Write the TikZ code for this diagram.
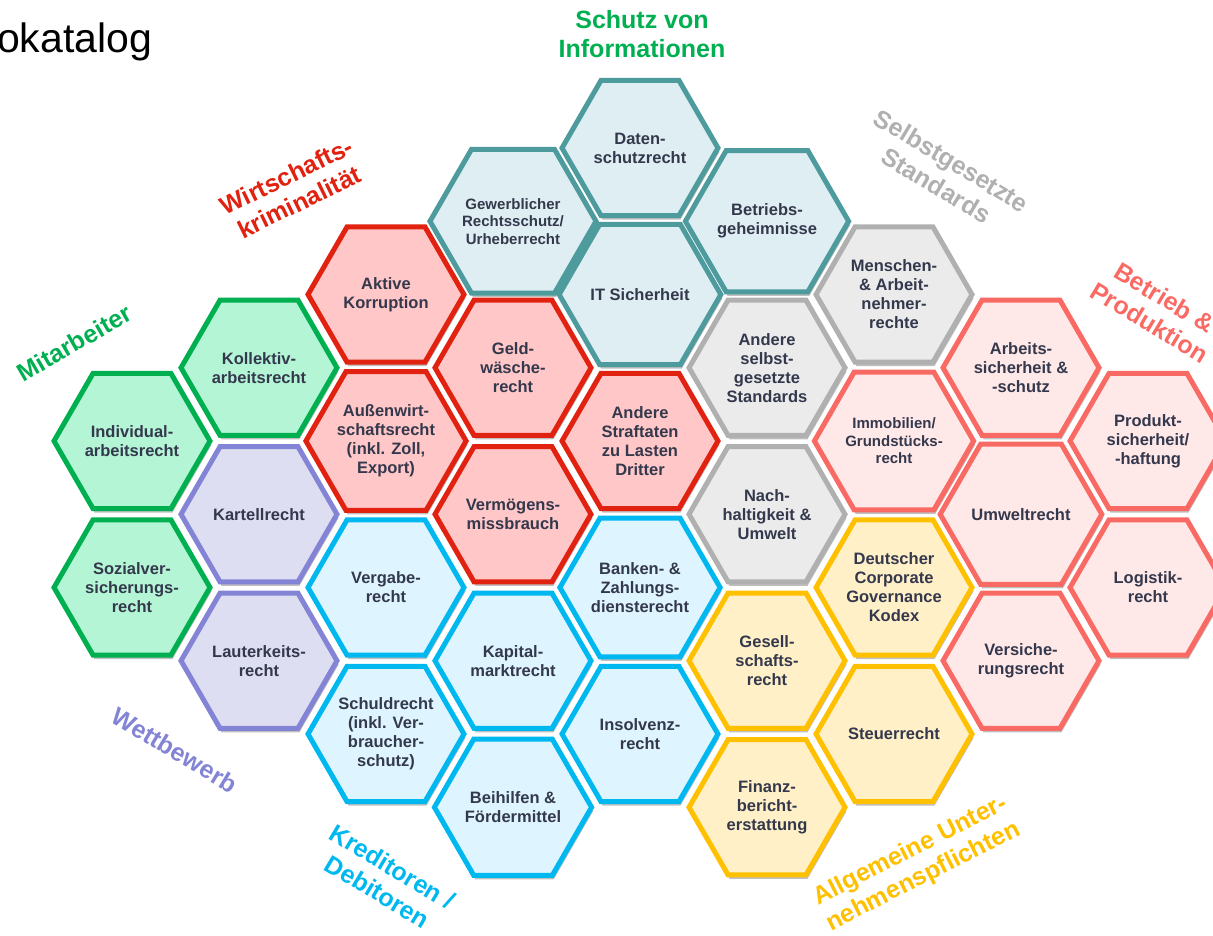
\documentclass[tikz,border=0pt]{standalone}
\usepackage{fontspec}
\setmainfont{Liberation Sans}
\usetikzlibrary{shapes.geometric,shadows}
\definecolor{txt}{RGB}{52,56,76}
\definecolor{tealB}{RGB}{78,155,158}\definecolor{tealF}{RGB}{222,238,242}
\definecolor{redB}{RGB}{226,34,16}\definecolor{redF}{RGB}{255,199,199}
\definecolor{grnB}{RGB}{0,176,80}\definecolor{grnF}{RGB}{180,245,214}
\definecolor{purB}{RGB}{132,132,214}\definecolor{purF}{RGB}{222,222,243}
\definecolor{bluB}{RGB}{0,184,240}\definecolor{bluF}{RGB}{222,245,255}
\definecolor{gryB}{RGB}{176,176,176}\definecolor{gryF}{RGB}{235,235,235}
\definecolor{salB}{RGB}{250,106,100}\definecolor{salF}{RGB}{255,232,232}
\definecolor{yelB}{RGB}{255,192,0}\definecolor{yelF}{RGB}{255,240,200}
\tikzset{
  hexbase/.style={regular polygon, regular polygon sides=6, minimum size=156pt,
    inner sep=0pt, outer sep=0pt, line width=5pt, line join=miter, text=txt, align=center,
    font=\fontsize{16.5}{19}\selectfont\bfseries,
    drop shadow={shadow xshift=1.5pt, shadow yshift=-4pt, fill=black, opacity=0.25}},
  hteal/.style={hexbase, draw=tealB, fill=tealF},
  hred/.style={hexbase, draw=redB, fill=redF},
  hgrn/.style={hexbase, draw=grnB, fill=grnF},
  hpur/.style={hexbase, draw=purB, fill=purF},
  hblu/.style={hexbase, draw=bluB, fill=bluF},
  hgry/.style={hexbase, draw=gryB, fill=gryF},
  hsal/.style={hexbase, draw=salB, fill=salF},
  hyel/.style={hexbase, draw=yelB, fill=yelF},
  smalltxt/.style={font=\fontsize{15}{17.5}\selectfont\bfseries},
  cat/.style={font=\fontsize{25}{29}\selectfont\bfseries, align=center, inner sep=0pt}
}
\begin{document}
\begin{tikzpicture}[x=1pt,y=-1pt]
\useasboundingbox (0,0) rectangle (1213,936);
\node[anchor=base west, inner sep=0pt, font=\fontsize{41}{41}\selectfont] (title) at (-3,53) {okatalog};
% column 1
\node[hgrn] (individual) at (132,441) {Individual-\\arbeitsrecht};
\node[hgrn] (sozial) at (132,587.5) {Sozialver-\\sicherungs-\\recht};
% column 2
\node[hgrn] (kollektiv) at (259,367.75) {Kollektiv-\\arbeitsrecht};
\node[hpur] (kartell) at (259,514.25) {Kartellrecht};
\node[hpur] (lauterkeit) at (259,660.75) {Lauterkeits-\\recht};
% column 3
\node[hred] (korruption) at (386,294.5) {Aktive\\Korruption};
\node[hred] (aussen) at (386,441) {Außenwirt-\\schaftsrecht\\(inkl. Zoll,\\Export)};
\node[hblu] (vergabe) at (386,587.5) {Vergabe-\\recht};
\node[hblu] (schuld) at (386,734) {Schuldrecht\\(inkl. Ver-\\braucher-\\schutz)};
% column 4
\node[hteal, smalltxt] (gewerb) at (513,221.25) {Gewerblicher\\Rechtsschutz/\\Urheberrecht};
\node[hred] (geldw) at (513,367.75) {Geld-\\wäsche-\\recht};
\node[hred] (vermoegen) at (513,514.25) {Vermögens-\\missbrauch};
\node[hblu] (kapital) at (513,660.75) {Kapital-\\marktrecht};
\node[hblu] (beihilfen) at (513,807.25) {Beihilfen \&\\Fördermittel};
% column 5
\node[hteal] (daten) at (640,148) {Daten-\\schutzrecht};
\node[hteal] (it) at (640,294.5) {IT Sicherheit};
\node[hred] (straftaten) at (640,441) {Andere\\Straftaten\\zu Lasten\\Dritter};
\node[hblu] (banken) at (640,587.5) {Banken- \&\\Zahlungs-\\diensterecht};
\node[hblu] (insolvenz) at (640,734) {Insolvenz-\\recht};
% column 6
\node[hteal] (betriebsg) at (767,221.25) {Betriebs-\\geheimnisse};
\node[hgry] (selbst) at (767,367.75) {Andere\\selbst-\\gesetzte\\Standards};
\node[hgry] (nachhalt) at (767,514.25) {Nach-\\haltigkeit \&\\Umwelt};
\node[hyel] (gesell) at (767,660.75) {Gesell-\\schafts-\\recht};
\node[hyel] (finanz) at (767,807.25) {Finanz-\\bericht-\\erstattung};
% column 7
\node[hgry] (menschen) at (894,294.5) {Menschen-\\\& Arbeit-\\nehmer-\\rechte};
\node[hsal, smalltxt] (immo) at (894,441) {Immobilien/\\Grundstücks-\\recht};
\node[hyel] (dcgk) at (894,587.5) {Deutscher\\Corporate\\Governance\\Kodex};
\node[hyel] (steuer) at (894,734) {Steuerrecht};
% column 8
\node[hsal] (arbsich) at (1021,367.75) {Arbeits-\\sicherheit \&\\-schutz};
\node[hsal] (umwelt) at (1021,514.25) {Umweltrecht};
\node[hsal] (versich) at (1021,660.75) {Versiche-\\rungsrecht};
% column 9
\node[hsal] (produkt) at (1148,441) {Produkt-\\sicherheit/\\-haftung};
\node[hsal] (logistik) at (1148,587.5) {Logistik-\\recht};
% category labels
\node[cat, text=grnB] (lschutz) at (642,34) {Schutz von\\Informationen};
\node[cat, text=redB, rotate=26] (lwirt) at (293,189) {Wirtschafts-\\kriminalität};
\node[cat, text=grnB, rotate=30] (lmit) at (74,343) {Mitarbeiter};
\node[cat, text=gryB, rotate=-31] (lselbst) at (944,173) {Selbstgesetzte\\Standards};
\node[cat, text=salB, rotate=-31] (lbetrieb) at (1157,310) {Betrieb \&\\Produktion};
\node[cat, text=purB, rotate=-31] (lwett) at (175,750) {Wettbewerb};
\node[cat, text=bluB, rotate=-31] (lkred) at (385,879) {Kreditoren /\\Debitoren};
\node[cat, text=yelB, rotate=27] (lallg) at (917,864) {Allgemeine Unter-\\nehmenspflichten};
\end{tikzpicture}
\end{document}
